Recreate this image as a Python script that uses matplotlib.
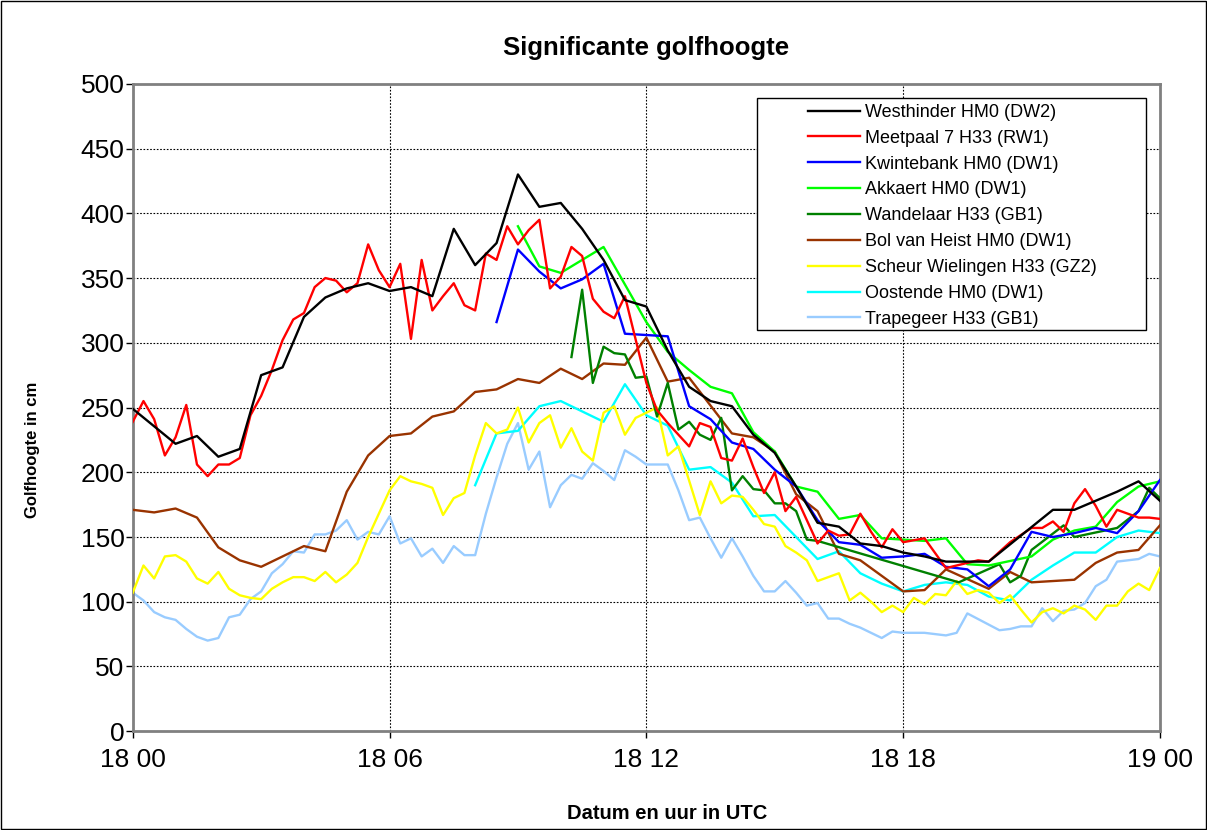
import matplotlib
matplotlib.use("Agg")
import matplotlib.pyplot as plt
import numpy as np

plt.rcParams['font.family'] = ['Liberation Sans', 'DejaVu Sans']

# hours after 18 00
tWest = [0, 1, 1.5, 2, 2.5, 3, 3.5, 4, 4.5, 5, 5.5, 6, 6.5, 7, 7.5, 8, 8.5, 9, 9.5, 10, 10.5, 11, 11.5, 12,
         12.5, 13, 13.5, 14, 14.5, 15, 15.5, 16, 16.5, 17, 17.5, 18, 18.5, 19, 20, 21.5, 22, 23, 23.5, 24]
vWest = [249, 222, 228, 212, 218, 275, 281, 320, 335, 342, 346, 340, 343, 336, 388, 360, 377, 430, 405, 408,
         388, 364, 333, 328, 294, 266, 255, 251, 229, 215, 189, 161, 158, 145, 143, 138, 135, 131, 131, 171,
         171, 185, 193, 178]

tMeet = [0, 0.25, 0.5, 0.75, 1, 1.25, 1.5, 1.75, 2, 2.25, 2.5, 2.75, 3, 3.25, 3.5, 3.75, 4, 4.25, 4.5, 4.75,
         5, 5.25, 5.5, 5.75, 6, 6.25, 6.5, 6.75, 7, 7.25, 7.5, 7.75, 8, 8.25, 8.5, 8.75, 9, 9.25, 9.5, 9.75,
         10, 10.25, 10.5, 10.75, 11, 11.25, 11.5, 12, 12.25, 12.5, 13, 13.25, 13.5, 13.75, 14, 14.25, 14.5,
         14.75, 15, 15.25, 15.5, 16, 16.25, 16.5, 16.75, 17, 17.25, 17.5, 17.75, 18, 18.5, 19, 19.5, 19.75,
         20, 20.5, 21, 21.25, 21.5, 21.75, 22, 22.25, 22.5, 22.75, 23, 23.5, 23.75, 24]
vMeet = [239, 255, 241, 213, 227, 252, 206, 197, 206, 206, 211, 244, 259, 279, 302, 318, 323, 343, 350, 348,
         339, 346, 376, 356, 343, 361, 303, 364, 325, 336, 346, 329, 325, 369, 364, 390, 376, 387, 395, 342,
         351, 374, 367, 334, 324, 319, 336, 269, 248, 238, 220, 238, 235, 211, 209, 226, 204,
         184, 200, 170, 181, 145, 155, 151, 152, 168, 154, 142, 156, 146, 149, 126, 130, 132,
         131, 146, 157, 157, 162, 154, 176, 187, 174, 158, 171, 165, 165, 164]

tKwin = [8.5, 9, 9.5, 10, 10.5, 11, 11.5, 12, 12.5, 13, 13.5, 14, 14.5, 15, 15.5, 16, 16.5, 17, 17.5, 18,
         18.5, 19, 19.5, 20, 20.5, 21, 21.5, 22, 22.5, 23, 23.5, 24]
vKwin = [316, 372, 355, 342, 349, 361, 307, 306, 305, 251, 241, 223, 218, 202, 189, 163, 146, 144, 134, 135,
         137, 127, 125, 112, 125, 154, 150, 153, 157, 153, 170, 194]

tAkka = [9, 9.5, 10, 11, 12, 12.5, 13, 13.5, 14, 14.5, 15, 15.5, 16, 16.5, 17, 17.5, 18, 18.5, 19, 19.5,
         20, 21, 21.5, 22, 22.5, 23, 23.5, 24]
vAkka = [390, 359, 354, 374, 316, 293, 279, 266, 261, 231, 216, 189, 185, 164, 167, 149, 148, 147, 149, 129,
         128, 135, 148, 155, 158, 177, 189, 193]

tWand = [10.25, 10.5, 10.75, 11, 11.25, 11.5, 11.75, 12, 12.25, 12.5, 12.75, 13, 13.25, 13.5, 13.75, 14,
         14.25, 14.5, 14.75, 15, 15.25, 15.5, 15.75, 16, 19.3, 20.25, 20.5, 20.75, 21, 21.75, 22, 23, 23.5,
         23.75, 24]
vWand = [289, 341, 269, 297, 292, 291, 273, 274, 243, 269, 233, 239, 229, 225, 242, 186, 197, 187, 186, 176,
         176, 170, 148, 147, 115, 129, 115, 120, 140, 159, 150, 157, 170, 188, 180]

tBol = [0, 0.5, 1, 1.5, 2, 2.5, 3, 3.5, 4, 4.5, 5, 5.5, 6, 6.5, 7, 7.5, 8, 8.5, 9, 9.5, 10, 10.5, 11, 11.5,
        12, 12.5, 13, 14, 14.5, 15, 15.5, 16, 16.5, 17, 18, 18.5, 19, 20, 20.5, 21, 22, 22.5, 23, 23.5, 24]
vBol = [171, 169, 172, 165, 142, 132, 127, 135, 143, 139, 185, 213, 228, 230, 243, 247, 262, 264, 272, 269,
        280, 272, 284, 283, 304, 270, 273, 230, 227, 216, 183, 170, 137, 132, 108, 109, 125, 110, 123, 115,
        117, 130, 138, 140, 159]

tScheur = [0, 0.25, 0.5, 0.75, 1, 1.25, 1.5, 1.75, 2, 2.25, 2.5, 2.75, 3, 3.25, 3.5, 3.75, 4, 4.25, 4.5,
           4.75, 5, 5.25, 5.5, 5.75, 6, 6.25, 6.5, 6.75, 7, 7.25, 7.5, 7.75, 8, 8.25, 8.5, 8.75, 9, 9.25, 9.5,
           9.75, 10, 10.25, 10.5, 10.75, 11, 11.25, 11.5, 11.75, 12, 12.25, 12.5, 12.75, 13.25, 13.5, 13.75,
           14, 14.25, 14.5, 14.75, 15, 15.25, 15.5, 15.75, 16, 16.25, 16.5, 16.75, 17, 17.25, 17.5, 17.75, 18,
           18.25, 18.5, 18.75, 19, 19.25, 19.5, 19.75, 20, 20.25, 20.5, 20.75, 21, 21.25, 21.5, 21.75, 22,
           22.25, 22.5, 22.75, 23, 23.25, 23.5, 23.75, 24]
vScheur = [107, 128, 118, 135, 136, 131, 118, 114, 123, 110, 105, 103, 102, 110, 115, 119, 119, 116, 123,
           115, 121, 130, 150, 168, 186, 197, 193, 191, 188, 167, 180, 184, 213, 238, 230, 233, 250, 223, 238,
           244, 219, 234, 216, 209, 246, 251, 229, 242, 246, 250, 213, 220, 167, 193, 176,
           182, 181, 171, 160, 158, 143, 138, 132, 116, 119, 122, 101, 107, 100, 92, 97, 92,
           103, 98, 106, 105, 116, 106, 109, 107, 99, 105, 94, 84, 92, 95, 91, 97,
           94, 86, 97, 97, 108, 114, 109, 126]

tOost = [8, 8.5, 9, 9.5, 10, 10.5, 11, 11.5, 12, 12.5, 13, 13.5, 14, 14.5, 15, 15.5, 16, 16.5, 17, 17.5, 18,
         18.5, 19, 19.5, 20, 20.5, 21, 21.5, 22, 22.5, 23, 23.5, 24]
vOost = [190, 230, 232, 251, 255, 247, 239, 268, 244, 236, 202, 204, 192, 166, 167, 150, 133, 139, 122, 114,
         108, 113, 115, 113, 104, 101, 117, 128, 138, 138, 150, 155, 153]

tTrap = [0, 0.25, 0.5, 0.75, 1, 1.25, 1.5, 1.75, 2, 2.25, 2.5, 2.75, 3, 3.25, 3.5, 3.75, 4, 4.25, 4.5, 4.75,
         5, 5.25, 5.5, 5.75, 6, 6.25, 6.5, 6.75, 7, 7.25, 7.5, 7.75, 8, 8.25, 8.5, 8.75, 9, 9.25, 9.5, 9.75,
         10, 10.25, 10.5, 10.75, 11, 11.25, 11.5, 11.75, 12, 12.5, 12.75, 13, 13.25, 13.5, 13.75, 14, 14.25,
         14.5, 14.75, 15, 15.25, 15.5, 15.75, 16, 16.25, 16.5, 16.75, 17, 17.25, 17.5, 17.75, 18, 18.5, 19,
         19.25, 19.5, 20.25, 20.5, 20.75, 21, 21.25, 21.5, 21.75, 22, 22.25, 22.5, 22.75, 23, 23.5, 23.75, 24]
vTrap = [107, 101, 92, 88, 86, 79, 73, 70, 72, 88, 90, 102, 108, 122, 129, 139, 138, 152, 152, 155,
         163, 148, 154, 152, 166, 145, 149, 135, 141, 130, 143, 136, 136, 168, 196, 222, 238, 202, 216, 173,
         190, 198, 195, 207, 201, 194, 217, 212, 206, 206, 186, 163, 165, 149, 134, 149, 135,
         120, 108, 108, 116, 107, 97, 99, 87, 87, 83, 80, 76, 72, 77, 76, 76, 74,
         76, 91, 78, 79, 81, 81, 95, 85, 93, 94, 99, 112, 117, 131, 133, 137, 135]

names = ['Westhinder HM0 (DW2)', 'Meetpaal 7 H33 (RW1)', 'Kwintebank HM0 (DW1)', 'Akkaert HM0 (DW1)',
         'Wandelaar H33 (GB1)', 'Bol van Heist HM0 (DW1)', 'Scheur Wielingen H33 (GZ2)',
         'Oostende HM0 (DW1)', 'Trapegeer H33 (GB1)']
colours = ['#000000', '#FF0000', '#0000FF', '#00FF00', '#008000', '#993300', '#FFFF00', '#00FFFF', '#99CCFF']
series = [(tWest, vWest), (tMeet, vMeet), (tKwin, vKwin), (tAkka, vAkka), (tWand, vWand),
          (tBol, vBol), (tScheur, vScheur), (tOost, vOost), (tTrap, vTrap)]

xTicks = [0, 6, 12, 18, 24]
xLabels = ['18 00', '18 06', '18 12', '18 18', '19 00']

fig = plt.figure(figsize=(12.07, 8.30), dpi=100)
ax = fig.add_axes([0.110, 0.119, 0.851, 0.780])

handles = []
for (t, v), c, n in zip(series, colours, names):
    line, = ax.plot(t, v, color=c, lw=1.7, label=n)
    handles.append(line)
# first series on top
for i, h in enumerate(handles):
    h.set_zorder(10 - i)

ax.set_xlim(0, 24)
ax.set_ylim(0, 500)
ax.set_xticks(xTicks)
ax.set_xticklabels(xLabels)
ax.set_yticks(np.arange(0, 501, 50))
ax.tick_params(axis='both', labelsize=19, direction='out', length=5, width=1, colors='black')
ax.tick_params(axis='y', pad=1)
ax.tick_params(axis='x', pad=7)
ax.grid(True, color='black', linestyle=(0, (1.5, 1.5)), linewidth=0.8)
ax.set_axisbelow(True)
for s in ['left', 'right', 'top', 'bottom']:
    ax.spines[s].set_color('#808080')
    ax.spines[s].set_linewidth(2)

ax.set_title('Significante golfhoogte', fontsize=18.5, fontweight='bold', pad=21)
ax.set_xlabel('Datum en uur in UTC', fontsize=14.5, fontweight='bold')
ax.xaxis.set_label_coords(0.52, -0.113)
ax.set_ylabel('Golfhoogte in cm', fontsize=12, fontweight='bold')
ax.yaxis.set_label_coords(-0.090, 0.435)

# legend box drawn separately, excel style wide frame
box = plt.Rectangle((0.6076, 0.620), 0.3788, 0.358, transform=ax.transAxes, facecolor='white',
                    edgecolor='black', linewidth=1, zorder=15)
ax.add_patch(box)
leg = ax.legend(handles=handles, loc='upper left', bbox_to_anchor=(0.657, 0.969), fontsize=13,
                frameon=False, handlelength=2.9, labelspacing=0.49, borderpad=0, handletextpad=0.3,
                borderaxespad=0)
leg.set_zorder(20)

# outer figure frame
fig.patches.append(plt.Rectangle((0.001, 0.001), 0.998, 0.998, transform=fig.transFigure,
                                 fill=False, edgecolor='black', linewidth=1))

fig.savefig('out.png', dpi=100)
